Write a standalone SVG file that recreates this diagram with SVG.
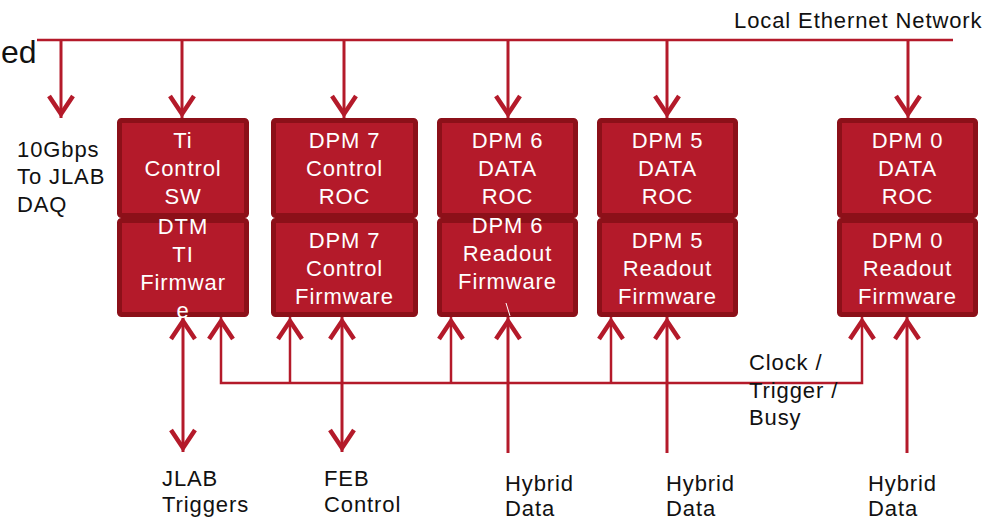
<svg xmlns="http://www.w3.org/2000/svg" width="986" height="520" viewBox="0 0 986 520">
<style>
.ln{stroke:#B41A2A;stroke-width:3;fill:none}
.hl{stroke:#B41A2A;stroke-width:2.5;fill:none}
.box{fill:#B41A2A;stroke:#8C1019;stroke-width:5}
.bt{font-family:"Liberation Sans",Arial,sans-serif;font-size:22px;fill:#ffffff;text-anchor:middle;letter-spacing:0.9px}
.lb{font-family:"Liberation Sans",Arial,sans-serif;font-size:22px;fill:#111111;letter-spacing:0.9px}
</style>
<defs>
<marker id="ah" viewBox="-26 -15 28 30" refX="0" refY="0" markerWidth="28" markerHeight="30" markerUnits="userSpaceOnUse" orient="auto-start-reverse">
<path d="M-22,-12 L-4,0 L-22,12" fill="none" stroke="#B41A2A" stroke-width="4.5"/>
</marker>
</defs>
<rect width="986" height="520" fill="#ffffff"/>
<g id="connectors">
<line class="hl" x1="37" y1="40" x2="953" y2="40"/>
<line class="ln" x1="61" y1="40" x2="61" y2="118" marker-end="url(#ah)"/>
<line class="ln" x1="182" y1="40" x2="182" y2="118" marker-end="url(#ah)"/>
<line class="ln" x1="344" y1="40" x2="344" y2="118" marker-end="url(#ah)"/>
<line class="ln" x1="508" y1="40" x2="508" y2="118" marker-end="url(#ah)"/>
<line class="ln" x1="667" y1="40" x2="667" y2="118" marker-end="url(#ah)"/>
<line class="ln" x1="908" y1="40" x2="908" y2="118" marker-end="url(#ah)"/>
<line class="ln" x1="183" y1="317" x2="183" y2="452" marker-start="url(#ah)" marker-end="url(#ah)"/>
<line class="ln" x1="342" y1="317" x2="342" y2="452" marker-start="url(#ah)" marker-end="url(#ah)"/>
<polyline class="hl" points="221,317 221,383 862,383 862,317" marker-start="url(#ah)" marker-end="url(#ah)"/>
<line class="hl" x1="290" y1="383" x2="290" y2="317" marker-end="url(#ah)"/>
<line class="hl" x1="451" y1="383" x2="451" y2="317" marker-end="url(#ah)"/>
<line class="hl" x1="611" y1="383" x2="611" y2="317" marker-end="url(#ah)"/>
<line class="ln" x1="508" y1="453" x2="508" y2="317" marker-end="url(#ah)"/>
<line class="ln" x1="667" y1="453" x2="667" y2="317" marker-end="url(#ah)"/>
<line class="ln" x1="907" y1="453" x2="907" y2="317" marker-end="url(#ah)"/>
</g>
<g id="ti-firmware">
<rect class="box" x="119.5" y="220.5" width="127" height="94" rx="2"/>
<text class="bt" x="183" y="234">DTM</text>
<text class="bt" x="183" y="262">TI</text>
<text class="bt" x="183" y="290">Firmwar</text>
<text class="bt" x="183" y="318">e</text>
</g>
<g id="dpm7-firmware">
<rect class="box" x="273.5" y="220.5" width="142" height="94" rx="2"/>
<text class="bt" x="344.5" y="248">DPM 7</text>
<text class="bt" x="344.5" y="276">Control</text>
<text class="bt" x="344.5" y="304">Firmware</text>
</g>
<g id="dpm6-firmware">
<rect class="box" x="439.5" y="220.5" width="136" height="94" rx="2"/>
<text class="bt" x="507.5" y="233">DPM 6</text>
<text class="bt" x="507.5" y="261">Readout</text>
<text class="bt" x="507.5" y="289">Firmware</text>
<line x1="506" y1="303" x2="510" y2="316" stroke="#ffffff" stroke-width="1"/>
</g>
<g id="dpm5-firmware">
<rect class="box" x="599.5" y="220.5" width="136" height="94" rx="2"/>
<text class="bt" x="667.5" y="248">DPM 5</text>
<text class="bt" x="667.5" y="276">Readout</text>
<text class="bt" x="667.5" y="304">Firmware</text>
</g>
<g id="dpm0-firmware">
<rect class="box" x="839.5" y="220.5" width="136" height="94" rx="2"/>
<text class="bt" x="907.5" y="248">DPM 0</text>
<text class="bt" x="907.5" y="276">Readout</text>
<text class="bt" x="907.5" y="304">Firmware</text>
</g>
<g id="ti-control">
<rect class="box" x="119.5" y="120.5" width="127" height="95" rx="2"/>
<text class="bt" x="183" y="148">Ti</text>
<text class="bt" x="183" y="176">Control</text>
<text class="bt" x="183" y="204">SW</text>
</g>
<g id="dpm7-roc">
<rect class="box" x="273.5" y="120.5" width="142" height="95" rx="2"/>
<text class="bt" x="344.5" y="148">DPM 7</text>
<text class="bt" x="344.5" y="176">Control</text>
<text class="bt" x="344.5" y="204">ROC</text>
</g>
<g id="dpm6-roc">
<rect class="box" x="439.5" y="120.5" width="136" height="95" rx="2"/>
<text class="bt" x="507.5" y="148">DPM 6</text>
<text class="bt" x="507.5" y="176">DATA</text>
<text class="bt" x="507.5" y="204">ROC</text>
</g>
<g id="dpm5-roc">
<rect class="box" x="599.5" y="120.5" width="136" height="95" rx="2"/>
<text class="bt" x="667.5" y="148">DPM 5</text>
<text class="bt" x="667.5" y="176">DATA</text>
<text class="bt" x="667.5" y="204">ROC</text>
</g>
<g id="dpm0-roc">
<rect class="box" x="839.5" y="120.5" width="136" height="95" rx="2"/>
<text class="bt" x="907.5" y="148">DPM 0</text>
<text class="bt" x="907.5" y="176">DATA</text>
<text class="bt" x="907.5" y="204">ROC</text>
</g>
<g id="labels">
<text x="1" y="63" style="font-family:'Liberation Sans',Arial,sans-serif;font-size:32px;fill:#111111">ed</text>
<text class="lb" x="734" y="28">Local Ethernet Network</text>
<text class="lb" x="17" y="157">10Gbps</text>
<text class="lb" x="17" y="184">To JLAB</text>
<text class="lb" x="17" y="212">DAQ</text>
<text class="lb" x="749" y="370">Clock /</text>
<text class="lb" x="749" y="397.5">Trigger /</text>
<text class="lb" x="749" y="425">Busy</text>
<text class="lb" x="162" y="486">JLAB</text>
<text class="lb" x="162" y="512">Triggers</text>
<text class="lb" x="324" y="486">FEB</text>
<text class="lb" x="324" y="512">Control</text>
<text class="lb" x="505" y="491">Hybrid</text>
<text class="lb" x="505" y="516">Data</text>
<text class="lb" x="666" y="491">Hybrid</text>
<text class="lb" x="666" y="516">Data</text>
<text class="lb" x="868" y="491">Hybrid</text>
<text class="lb" x="868" y="516">Data</text>
</g>
</svg>
